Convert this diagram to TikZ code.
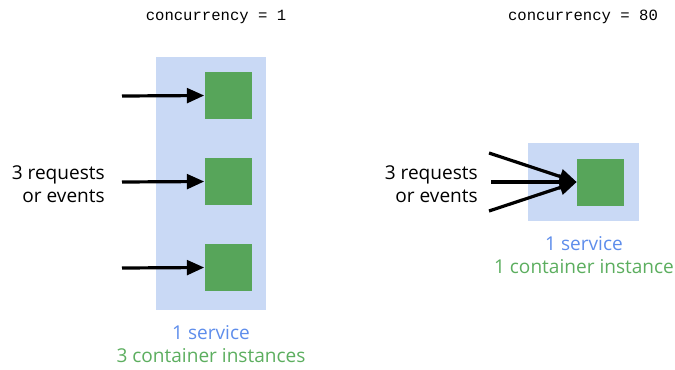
\documentclass[tikz,border=0pt]{standalone}
\usepackage{fontspec}
\setmainfont{Open Sans}
\setmonofont{Liberation Mono}
\usetikzlibrary{arrows.meta}
\definecolor{svcblue}{HTML}{C9D9F5}
\definecolor{boxgreen}{HTML}{57A55A}
\definecolor{txtblue}{HTML}{5E8DEB}
\definecolor{txtgreen}{HTML}{5CAE5F}
\begin{document}
\begin{tikzpicture}[x=0.75pt,y=-0.75pt,
  svc/.style={fill=svcblue,draw=none},
  inst/.style={fill=boxgreen,draw=none,minimum size=35.25pt,inner sep=0pt},
  req/.style={line width=2.4pt,-{Triangle[length=13pt,width=11pt]}},
  lbl/.style={font=\fontsize{14.3}{17.5}\selectfont,align=right,inner sep=0pt},
  captxt/.style={font=\fontsize{14.3}{17.5}\selectfont,align=center,inner sep=0pt},
  conc/.style={font=\ttfamily\fontsize{11.7}{13}\selectfont,inner sep=0pt}]
\useasboundingbox (0,0) rectangle (675,369);
% left
\node[conc] (c1) at (216,17) {concurrency = 1};
\fill[svc] (156,57) rectangle (266,310);
\node[inst] (i1) at (228,95.5) {};
\node[inst] (i2) at (228,181.5) {};
\node[inst] (i3) at (228,267.5) {};
\coordinate (s1) at (122,96);
\coordinate (s2) at (122,182);
\coordinate (s3) at (122,268);
\draw[req] (s1) -- (i1.west);
\draw[req] (s2) -- (i2.west);
\draw[req] (s3) -- (i3.west);
\node[lbl,anchor=east] (l1) at (105,184.5) {3 requests\\or events};
\node[captxt,text=txtblue] (sv1) at (211,333) {1 service};
\node[captxt,text=txtgreen] (ci1) at (211,356) {3 container instances};
% right
\node[conc] (c2) at (583,17) {concurrency = 80};
\fill[svc] (528,143) rectangle (639,221);
\node[inst] (i4) at (600.5,182) {};
\coordinate (t1) at (489,153);
\coordinate (t2) at (491,182);
\coordinate (t3) at (489,211);
\draw[req] (t1) -- (i4.west);
\draw[req] (t2) -- (i4.west);
\draw[req] (t3) -- (i4.west);
\node[lbl,anchor=east] (l2) at (478,184) {3 requests\\or events};
\node[captxt,text=txtblue] (sv2) at (584,244) {1 service};
\node[captxt,text=txtgreen] (ci2) at (584,267) {1 container instance};
\end{tikzpicture}
\end{document}
